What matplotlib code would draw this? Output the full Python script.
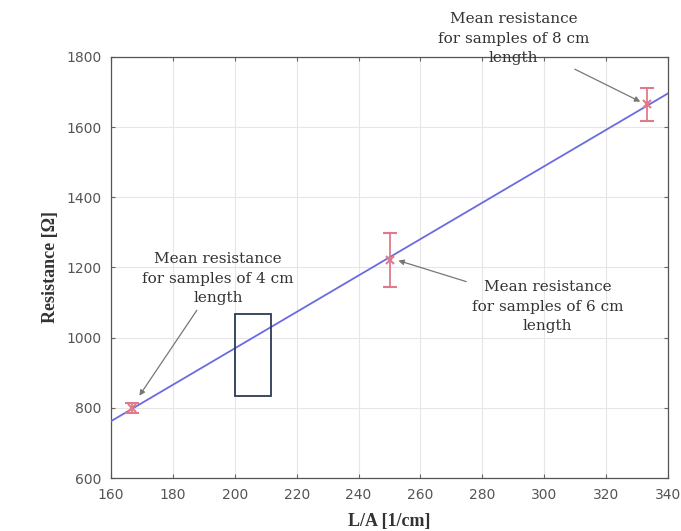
import numpy as np
import matplotlib
matplotlib.use("Agg")
import matplotlib.pyplot as plt
from matplotlib.patches import Rectangle

# data
la_values = [166.67, 250.0, 333.33]          # L/A [1/cm]
mean_resistance = [800, 1222, 1665]          # Ohm
resistance_err = [15, 77, 47]
x_ticks = [160, 180, 200, 220, 240, 260, 280, 300, 320, 340]
y_ticks = [600, 800, 1000, 1200, 1400, 1600, 1800]
labels = ["Mean resistance\nfor samples of 4 cm\nlength",
          "Mean resistance\nfor samples of 6 cm\nlength",
          "Mean resistance\nfor samples of 8 cm\nlength"]

fig = plt.figure(figsize=(6.81, 5.31), dpi=100)
ax = fig.add_axes([0.163, 0.0998, 0.818, 0.793])

slope, intercept = np.polyfit(la_values, mean_resistance, 1)
xs = np.array([160, 340])
ax.plot(xs, slope * xs + intercept, color="#6b6be0", lw=1.3, zorder=3)
ax.errorbar(la_values, mean_resistance, yerr=resistance_err, fmt="x",
            color="#e07a8a", ecolor="#e07a8a", capsize=5, elinewidth=1.3,
            markersize=6, mew=1.5, zorder=4)

ax.set_xlim(160, 340)
ax.set_ylim(600, 1800)
ax.set_xticks(x_ticks)
ax.set_yticks(y_ticks)
ax.grid(True, color="#e6e6e6", lw=0.8)
ax.tick_params(direction="in", top=True, right=True, labelsize=10,
               labelcolor="#555555", color="#666666", length=3, pad=7)
for s in ax.spines.values():
    s.set_color("#555555")
    s.set_linewidth(0.9)
serif = ["Liberation Serif", "DejaVu Serif"]
ax.set_xlabel("L/A [1/cm]", fontsize=13, fontweight="bold", family=serif,
              color="#333333", labelpad=8)
ax.set_ylabel("Resistance [Ω]", fontsize=13, fontweight="bold", family=serif,
              color="#333333", labelpad=5)

arrow = dict(arrowstyle="-|>", color="#777777", lw=0.9, mutation_scale=8,
             shrinkA=2)
common = dict(ha="center", va="center", fontsize=11, family="DejaVu Serif",
              color="#333333", arrowprops=arrow, linespacing=1.5, zorder=5,
              annotation_clip=False)
ax.annotate(labels[0], xy=(la_values[0] + 2, mean_resistance[0] + 28),
            xytext=(194.6, 1168), **common)
ax.annotate(labels[1], xy=(la_values[1] + 2, mean_resistance[1]),
            xytext=(301, 1088), **common)
ax.annotate(labels[2], xy=(la_values[2] - 1.5, mean_resistance[2] + 4),
            xytext=(290, 1852), **common)

# stray outlined box in the reference image
fig.patches.append(Rectangle((235 / 681, 1 - 396 / 531), 36 / 681, 82 / 531,
                             transform=fig.transFigure, fill=False,
                             edgecolor="#2b3a55", lw=1.3))

fig.savefig("out.png", dpi=100)
